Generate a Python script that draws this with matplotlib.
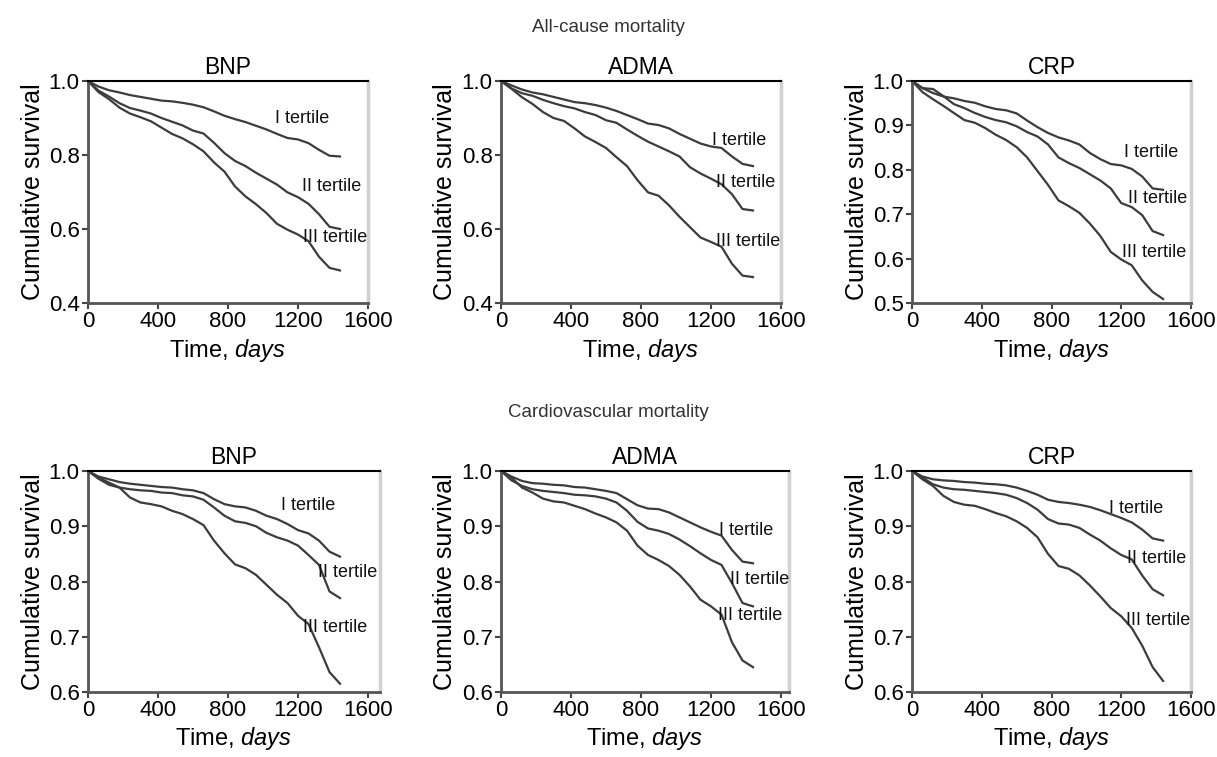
import matplotlib.pyplot as plt

plt.rcParams['font.family'] = ['Liberation Sans', 'DejaVu Sans']
plt.rcParams['mathtext.fontset'] = 'custom'
plt.rcParams['mathtext.rm'] = 'Liberation Sans'
plt.rcParams['mathtext.it'] = 'Liberation Sans:italic'

# follow-up time grid (days)
days = [0, 60, 120, 180, 240, 300, 360, 420, 480, 540, 600, 660, 720,
        780, 840, 900, 960, 1020, 1080, 1140, 1200, 1260, 1320, 1380, 1440]

markers = ['BNP', 'ADMA', 'CRP']
row_titles = ['All-cause mortality', 'Cardiovascular mortality']
tertile_names = ['I tertile', 'II tertile', 'III tertile']

# all-cause mortality, survival per tertile
all_bnp_1 = [1.0, 0.985, 0.975, 0.969, 0.962, 0.957, 0.952, 0.947, 0.945, 0.941, 0.936, 0.929, 0.918,
             0.906, 0.897, 0.889, 0.879, 0.869, 0.857, 0.846, 0.842, 0.832, 0.814, 0.798, 0.796]
all_bnp_2 = [1.0, 0.974, 0.958, 0.940, 0.927, 0.920, 0.912, 0.900, 0.890, 0.880, 0.866, 0.858, 0.833,
             0.805, 0.784, 0.770, 0.752, 0.736, 0.720, 0.699, 0.686, 0.668, 0.640, 0.606, 0.600]
all_bnp_3 = [1.0, 0.970, 0.951, 0.928, 0.912, 0.902, 0.891, 0.874, 0.857, 0.845, 0.829, 0.810, 0.780,
             0.755, 0.715, 0.688, 0.667, 0.643, 0.614, 0.598, 0.585, 0.567, 0.525, 0.495, 0.488]

all_adma_1 = [1.0, 0.988, 0.977, 0.969, 0.964, 0.957, 0.950, 0.943, 0.940, 0.935, 0.928, 0.919, 0.908,
              0.897, 0.885, 0.881, 0.872, 0.857, 0.844, 0.831, 0.823, 0.819, 0.796, 0.776, 0.770]
all_adma_2 = [1.0, 0.980, 0.967, 0.960, 0.949, 0.940, 0.932, 0.926, 0.916, 0.908, 0.894, 0.887, 0.869,
              0.852, 0.836, 0.823, 0.810, 0.796, 0.767, 0.750, 0.736, 0.721, 0.694, 0.654, 0.650]
all_adma_3 = [1.0, 0.979, 0.956, 0.938, 0.916, 0.900, 0.892, 0.872, 0.850, 0.835, 0.819, 0.794, 0.770,
              0.732, 0.699, 0.690, 0.664, 0.633, 0.605, 0.577, 0.565, 0.552, 0.506, 0.474, 0.470]

all_crp_1 = [1.0, 0.984, 0.973, 0.965, 0.961, 0.955, 0.951, 0.943, 0.937, 0.934, 0.927, 0.911, 0.896,
             0.883, 0.873, 0.866, 0.857, 0.838, 0.824, 0.813, 0.810, 0.802, 0.785, 0.758, 0.755]
all_crp_2 = [1.0, 0.984, 0.982, 0.966, 0.948, 0.939, 0.928, 0.919, 0.912, 0.907, 0.898, 0.885, 0.875,
             0.857, 0.828, 0.815, 0.804, 0.790, 0.776, 0.758, 0.725, 0.716, 0.698, 0.662, 0.653]
all_crp_3 = [1.0, 0.975, 0.959, 0.944, 0.928, 0.912, 0.906, 0.894, 0.879, 0.867, 0.851, 0.828, 0.797,
             0.766, 0.731, 0.718, 0.703, 0.679, 0.651, 0.615, 0.598, 0.585, 0.551, 0.525, 0.509]

# cardiovascular mortality, survival per tertile
cv_bnp_1 = [1.0, 0.990, 0.985, 0.980, 0.977, 0.975, 0.973, 0.971, 0.970, 0.967, 0.965, 0.960, 0.949,
            0.940, 0.936, 0.934, 0.928, 0.919, 0.913, 0.904, 0.893, 0.887, 0.874, 0.854, 0.845]
cv_bnp_2 = [1.0, 0.986, 0.975, 0.970, 0.967, 0.965, 0.964, 0.961, 0.960, 0.956, 0.954, 0.948, 0.934,
            0.919, 0.909, 0.906, 0.900, 0.888, 0.880, 0.874, 0.865, 0.848, 0.830, 0.782, 0.770]
cv_bnp_3 = [1.0, 0.988, 0.979, 0.970, 0.952, 0.943, 0.940, 0.936, 0.928, 0.922, 0.913, 0.902, 0.874,
            0.851, 0.831, 0.824, 0.812, 0.794, 0.776, 0.761, 0.738, 0.723, 0.681, 0.636, 0.615]

cv_adma_1 = [1.0, 0.990, 0.982, 0.978, 0.977, 0.975, 0.974, 0.971, 0.970, 0.967, 0.964, 0.960, 0.949,
             0.938, 0.932, 0.931, 0.925, 0.916, 0.907, 0.898, 0.890, 0.883, 0.857, 0.836, 0.833]
cv_adma_2 = [1.0, 0.983, 0.973, 0.967, 0.964, 0.962, 0.960, 0.957, 0.956, 0.954, 0.950, 0.943, 0.928,
             0.908, 0.896, 0.892, 0.886, 0.876, 0.864, 0.851, 0.839, 0.830, 0.797, 0.761, 0.755]
cv_adma_3 = [1.0, 0.988, 0.970, 0.961, 0.950, 0.945, 0.943, 0.937, 0.931, 0.923, 0.916, 0.907, 0.892,
             0.865, 0.848, 0.839, 0.828, 0.812, 0.791, 0.767, 0.755, 0.740, 0.690, 0.657, 0.645]

cv_crp_1 = [1.0, 0.990, 0.985, 0.983, 0.982, 0.980, 0.979, 0.977, 0.976, 0.974, 0.970, 0.964, 0.957,
            0.948, 0.944, 0.942, 0.939, 0.935, 0.929, 0.922, 0.915, 0.907, 0.894, 0.878, 0.874]
cv_crp_2 = [1.0, 0.988, 0.976, 0.970, 0.967, 0.966, 0.964, 0.962, 0.960, 0.957, 0.951, 0.942, 0.930,
            0.913, 0.905, 0.903, 0.897, 0.885, 0.874, 0.860, 0.848, 0.840, 0.811, 0.786, 0.775]
cv_crp_3 = [1.0, 0.985, 0.973, 0.955, 0.944, 0.939, 0.937, 0.931, 0.924, 0.918, 0.909, 0.897, 0.880,
            0.850, 0.828, 0.823, 0.811, 0.793, 0.773, 0.752, 0.737, 0.716, 0.684, 0.645, 0.620]

curves = [
    [[all_bnp_1, all_bnp_2, all_bnp_3],
     [all_adma_1, all_adma_2, all_adma_3],
     [all_crp_1, all_crp_2, all_crp_3]],
    [[cv_bnp_1, cv_bnp_2, cv_bnp_3],
     [cv_adma_1, cv_adma_2, cv_adma_3],
     [cv_crp_1, cv_crp_2, cv_crp_3]],
]

yticks_rows = [
    [[0.4, 0.6, 0.8, 1.0], [0.4, 0.6, 0.8, 1.0], [0.5, 0.6, 0.7, 0.8, 0.9, 1.0]],
    [[0.6, 0.7, 0.8, 0.9, 1.0]] * 3,
]
xticks = [0, 400, 800, 1200, 1600]

# layout (pixels of the 1217x757 canvas)
W, H = 1217, 757
col_left = [88, 501, 912]
col_width = [[280, 280, 279], [292, 288, 279]]
row_top = [81, 471]
row_height = [222, 221]
row_title_y = [28, 412]

# where each tertile label sits (days, survival)
label_pos = [
    [[(1069, 0.900), (1223, 0.714), (1229, 0.576)],
     [(1206, 0.840), (1228, 0.727), (1228, 0.565)],
     [(1215, 0.838), (1238, 0.736), (1203, 0.613)]],
    [[(1103, 0.937), (1317, 0.817), (1229, 0.717)],
     [(1246, 0.893), (1309, 0.803), (1240, 0.739)],
     [(1129, 0.933), (1232, 0.842), (1226, 0.730)]],
]

line_color = '#3c3c3c'

fig = plt.figure(figsize=(W / 100, H / 100), dpi=100)

for r in range(2):
    fig.text(608 / W, 1 - row_title_y[r] / H, row_titles[r], ha='center', va='center',
             fontsize=13.5, color='#333333')
    for c in range(3):
        w = col_width[r][c]
        ax = fig.add_axes([col_left[c] / W, 1 - (row_top[r] + row_height[r]) / H,
                           w / W, row_height[r] / H])
        yt = yticks_rows[r][c]
        ax.set_ylim(yt[0], yt[-1])
        ax.set_xlim(0, 1600 * w / 280 if c < 2 else 1600)
        for k in range(3):
            ax.plot(days, curves[r][c][k], color=line_color, lw=1.6)
            lx, ly = label_pos[r][c][k]
            ax.text(lx, ly, tertile_names[k], ha='left', va='center', fontsize=13, color='#111111')
        ax.set_yticks(yt)
        ax.set_yticklabels([f'{v:.1f}' for v in yt])
        ax.set_xticks(xticks)
        ax.tick_params(direction='out', length=4, width=1.5, color='#444444',
                       labelsize=16, pad=2)
        ax.set_title(markers[c], fontsize=16.5, pad=5)
        ax.set_ylabel('Cumulative survival', fontsize=18, labelpad=3)
        ax.set_xlabel('Time, $\\mathit{days}$', fontsize=17, labelpad=3)
        ax.spines['top'].set_color('black')
        ax.spines['top'].set_linewidth(1.5)
        ax.spines['left'].set_color('#555555')
        ax.spines['left'].set_linewidth(2)
        ax.spines['bottom'].set_color('#555555')
        ax.spines['bottom'].set_linewidth(2)
        ax.spines['right'].set_color('#d0d0d0')
        ax.spines['right'].set_linewidth(2.5)

fig.savefig('out.png', dpi=100)
